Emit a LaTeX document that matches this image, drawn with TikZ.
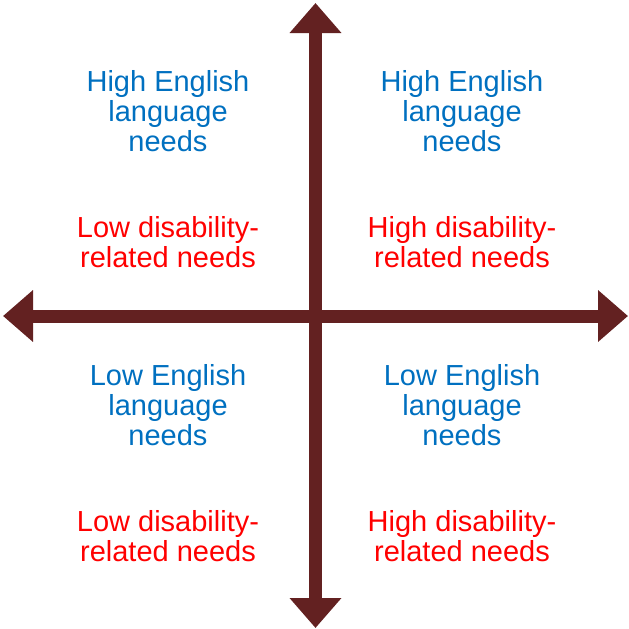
\documentclass[tikz,border=0pt]{standalone}
\usepackage{fontspec}
\setmainfont{Liberation Sans}
\usetikzlibrary{arrows.meta}
\definecolor{axisbrown}{RGB}{99,33,33}
\definecolor{txtblue}{RGB}{0,112,192}
\definecolor{txtred}{RGB}{255,0,0}
\begin{document}
\begin{tikzpicture}[x=1pt,y=-1pt,
  axis/.style={draw=axisbrown,line width=13pt,{Triangle[length=30pt,width=50pt]}-{Triangle[length=30pt,width=50pt]},fill=axisbrown},
  bluetext/.style={text=txtblue,align=center,font=\fontsize{29}{30}\selectfont,inner sep=0pt},
  redtext/.style={text=txtred,align=center,font=\fontsize{29}{30}\selectfont,inner sep=0pt}]
\useasboundingbox (0,0) rectangle (629,629);
\coordinate (top) at (315.5,3);
\coordinate (bottom) at (315.5,628);
\coordinate (left) at (3,316);
\coordinate (right) at (628,316);
\draw[axis] (left) -- (right);
\draw[axis] (top) -- (bottom);
\node[bluetext] (tlb) at (168,111) {High English\\language\\needs};
\node[redtext] (tlr) at (168,242) {Low disability-\\related needs};
\node[bluetext] (trb) at (462,111) {High English\\language\\needs};
\node[redtext] (trr) at (462,242) {High disability-\\related needs};
\node[bluetext] (blb) at (168,405) {Low English\\language\\needs};
\node[redtext] (blr) at (168,536) {Low disability-\\related needs};
\node[bluetext] (brb) at (462,405) {Low English\\language\\needs};
\node[redtext] (brr) at (462,536) {High disability-\\related needs};
\end{tikzpicture}
\end{document}
